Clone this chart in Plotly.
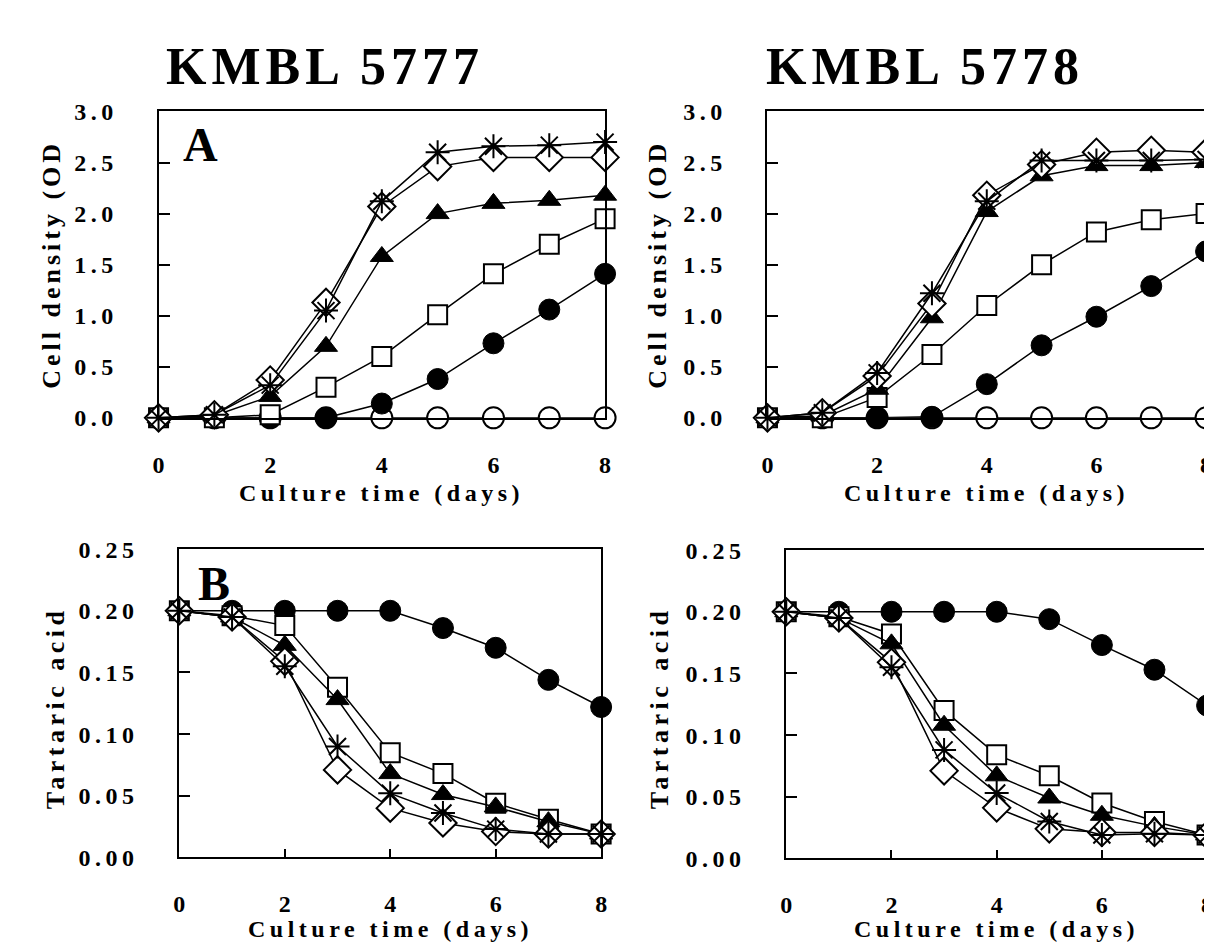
import plotly.graph_objects as go

# ---------------- data ----------------
days = [0, 1, 2, 3, 4, 5, 6, 7, 8]

# Panel A - cell density, KMBL 5777
od77_open_circle = [0, 0, 0, 0, 0, 0, 0, 0, 0]
od77_filled_circle = [0, 0, 0, 0.0, 0.14, 0.38, 0.73, 1.06, 1.41]
od77_open_square = [0, 0, 0.03, 0.30, 0.60, 1.01, 1.41, 1.70, 1.95]
od77_filled_triangle = [0, 0.02, 0.21, 0.70, 1.58, 2.00, 2.10, 2.13, 2.18]
od77_open_diamond = [0, 0.03, 0.37, 1.13, 2.07, 2.46, 2.55, 2.55, 2.55]
od77_star = [0, 0.03, 0.32, 1.05, 2.12, 2.60, 2.66, 2.67, 2.70]

# Panel A - cell density, KMBL 5778
od78_open_circle = [0, 0, 0, 0, 0, 0, 0, 0, 0]
od78_filled_circle = [0, 0, 0, 0.01, 0.33, 0.71, 0.99, 1.29, 1.63]
od78_open_square = [0, 0, 0.20, 0.62, 1.10, 1.50, 1.82, 1.94, 2.00]
od78_filled_triangle = [0, 0.02, 0.28, 0.98, 2.02, 2.37, 2.47, 2.47, 2.50]
od78_open_diamond = [0, 0.05, 0.41, 1.12, 2.18, 2.48, 2.60, 2.62, 2.60]
od78_star = [0, 0.05, 0.44, 1.22, 2.12, 2.52, 2.52, 2.52, 2.53]

# Panel B - tartaric acid, KMBL 5777
ta77_filled_circle = [0.2, 0.2, 0.2, 0.2, 0.2, 0.186, 0.170, 0.144, 0.122]
ta77_open_square = [0.2, 0.196, 0.188, 0.138, 0.085, 0.068, 0.044, 0.031, 0.019]
ta77_filled_triangle = [0.2, 0.195, 0.172, 0.128, 0.068, 0.051, 0.041, 0.029, 0.019]
ta77_open_diamond = [0.2, 0.195, 0.159, 0.071, 0.040, 0.028, 0.021, 0.019, 0.019]
ta77_star = [0.2, 0.195, 0.155, 0.090, 0.052, 0.036, 0.023, 0.019, 0.019]

# Panel B - tartaric acid, KMBL 5778
ta78_filled_circle = [0.2, 0.2, 0.2, 0.2, 0.2, 0.194, 0.173, 0.153, 0.124]
ta78_open_square = [0.2, 0.196, 0.182, 0.120, 0.084, 0.067, 0.045, 0.030, 0.019]
ta78_filled_triangle = [0.2, 0.195, 0.174, 0.108, 0.067, 0.049, 0.035, 0.026, 0.019]
ta78_open_diamond = [0.2, 0.195, 0.159, 0.071, 0.041, 0.024, 0.021, 0.021, 0.019]
ta78_star = [0.2, 0.195, 0.155, 0.088, 0.053, 0.030, 0.019, 0.020, 0.019]

x_ticks = [0, 2, 4, 6, 8]
od_ticks = [0.0, 0.5, 1.0, 1.5, 2.0, 2.5, 3.0]
ta_ticks = [0.00, 0.05, 0.10, 0.15, 0.20, 0.25]

strain_titles = ["KMBL 5777", "KMBL 5778"]
panel_letters = ["A", "B"]
x_title = "Culture time (days)"
od_title = "Cell density (OD"
ta_title = "Tartaric acid"

# ---------------- styles ----------------
W, H = 1212, 950
FONT = "Liberation Serif, Times New Roman, serif"


def spaced(text, px):
    return f'<span style="letter-spacing:{px}px">{text}</span>'


STYLES = {
    "open_circle": dict(symbol="circle", size=21, color="white", line=dict(color="black", width=2)),
    "filled_circle": dict(symbol="circle", size=21, color="black", line=dict(color="black", width=1)),
    "open_square": dict(symbol="square", size=19, color="white", line=dict(color="black", width=2)),
    "filled_triangle": dict(symbol="triangle-up", size=20, color="black", line=dict(color="black", width=1)),
    "open_diamond": dict(symbol="diamond", size=21, color="white", line=dict(color="black", width=2)),
    "star": dict(symbol="asterisk-open", size=20, color="black", line=dict(color="black", width=2)),
}

fig = go.Figure()


def px_dom_x(a, b):
    return [a / W, b / W]


def px_dom_y(top, bottom):
    return [1 - bottom / H, 1 - top / H]


panels = [
    ("", (146, 597), (93, 408), [0, 3.0], od_ticks, "{:.1f}", False,
     [("open_circle", od77_open_circle), ("filled_circle", od77_filled_circle),
      ("open_square", od77_open_square), ("filled_triangle", od77_filled_triangle),
      ("open_diamond", od77_open_diamond), ("star", od77_star)]),
    ("2", (761, 1204), (93, 408), [0, 3.0], od_ticks, "{:.1f}", False,
     [("open_circle", od78_open_circle), ("filled_circle", od78_filled_circle),
      ("open_square", od78_open_square), ("filled_triangle", od78_filled_triangle),
      ("open_diamond", od78_open_diamond), ("star", od78_star)]),
    ("3", (167, 593), (543, 860), [0, 0.25], ta_ticks, "{:.2f}", True,
     [("filled_circle", ta77_filled_circle), ("open_square", ta77_open_square),
      ("filled_triangle", ta77_filled_triangle), ("open_diamond", ta77_open_diamond),
      ("star", ta77_star)]),
    ("4", (780, 1205), (544, 861), [0, 0.25], ta_ticks, "{:.2f}", True,
     [("filled_circle", ta78_filled_circle), ("open_square", ta78_open_square),
      ("filled_triangle", ta78_filled_triangle), ("open_diamond", ta78_open_diamond),
      ("star", ta78_star)]),
]

tick_font = dict(family=FONT, size=24, color="black", weight="bold")

for suf, xd, yd, yr, yt, fmt, xin, series in panels:
    xa = "x" + suf
    ya = "y" + suf
    for name, vals in series:
        fig.add_trace(go.Scatter(
            x=days, y=vals, xaxis=xa, yaxis=ya, mode="lines+markers",
            line=dict(color="black", width=1.5),
            marker=STYLES[name], cliponaxis=False, showlegend=False,
            name=name,
        ))
    fig.update_layout(**{
        "xaxis" + suf: dict(
            domain=px_dom_x(*xd), anchor=ya, range=[0, 8],
            tickvals=x_ticks, ticktext=[spaced(str(v), 0) for v in x_ticks],
            showline=True, mirror=True, linecolor="black", linewidth=2,
            ticks="inside" if xin else "", ticklen=8, tickwidth=2, tickcolor="black",
            showgrid=False, zeroline=False, tickfont=tick_font, ticklabelstandoff=24,
        ),
        "yaxis" + suf: dict(
            domain=px_dom_y(*yd), anchor=xa, range=yr,
            tickvals=yt, ticktext=[spaced(fmt.format(v), 4.5) for v in yt],
            showline=True, mirror=True, linecolor="black", linewidth=2,
            ticks="inside", ticklen=11, tickwidth=2, tickcolor="black",
            showgrid=False, zeroline=False, tickfont=tick_font, ticklabelstandoff=34,
        ),
    })

annotations = []


def ann(text, xpx, ypx, size, angle=0, spacing=0):
    annotations.append(dict(
        text=spaced(text, spacing) if spacing else text,
        x=xpx / W, y=1 - ypx / H, xref="paper", yref="paper",
        xanchor="center", yanchor="middle", showarrow=False, textangle=angle,
        font=dict(family=FONT, size=size, color="black", weight="bold"),
    ))


ann(strain_titles[0], 314, 47, 52, spacing=5)
ann(strain_titles[1], 920, 47, 52, spacing=5)
ann(panel_letters[0], 188, 127, 48)
ann(panel_letters[1], 202, 578, 48)
ann(x_title, 371, 485, 24, spacing=4.5)
ann(x_title, 982, 485, 24, spacing=4.5)
ann(x_title, 380, 934, 24, spacing=4.5)
ann(x_title, 992, 934, 24, spacing=4.5)
ann(od_title, 38, 250, 26, -90, spacing=4)
ann(od_title, 650, 250, 26, -90, spacing=4)
ann(ta_title, 42, 706, 26, -90, spacing=4.5)
ann(ta_title, 652, 706, 26, -90, spacing=4.5)

fig.update_layout(
    width=W, height=H, margin=dict(l=0, r=0, t=0, b=0),
    paper_bgcolor="white", plot_bgcolor="white",
    annotations=annotations, showlegend=False,
)

fig.write_html("out.html")
